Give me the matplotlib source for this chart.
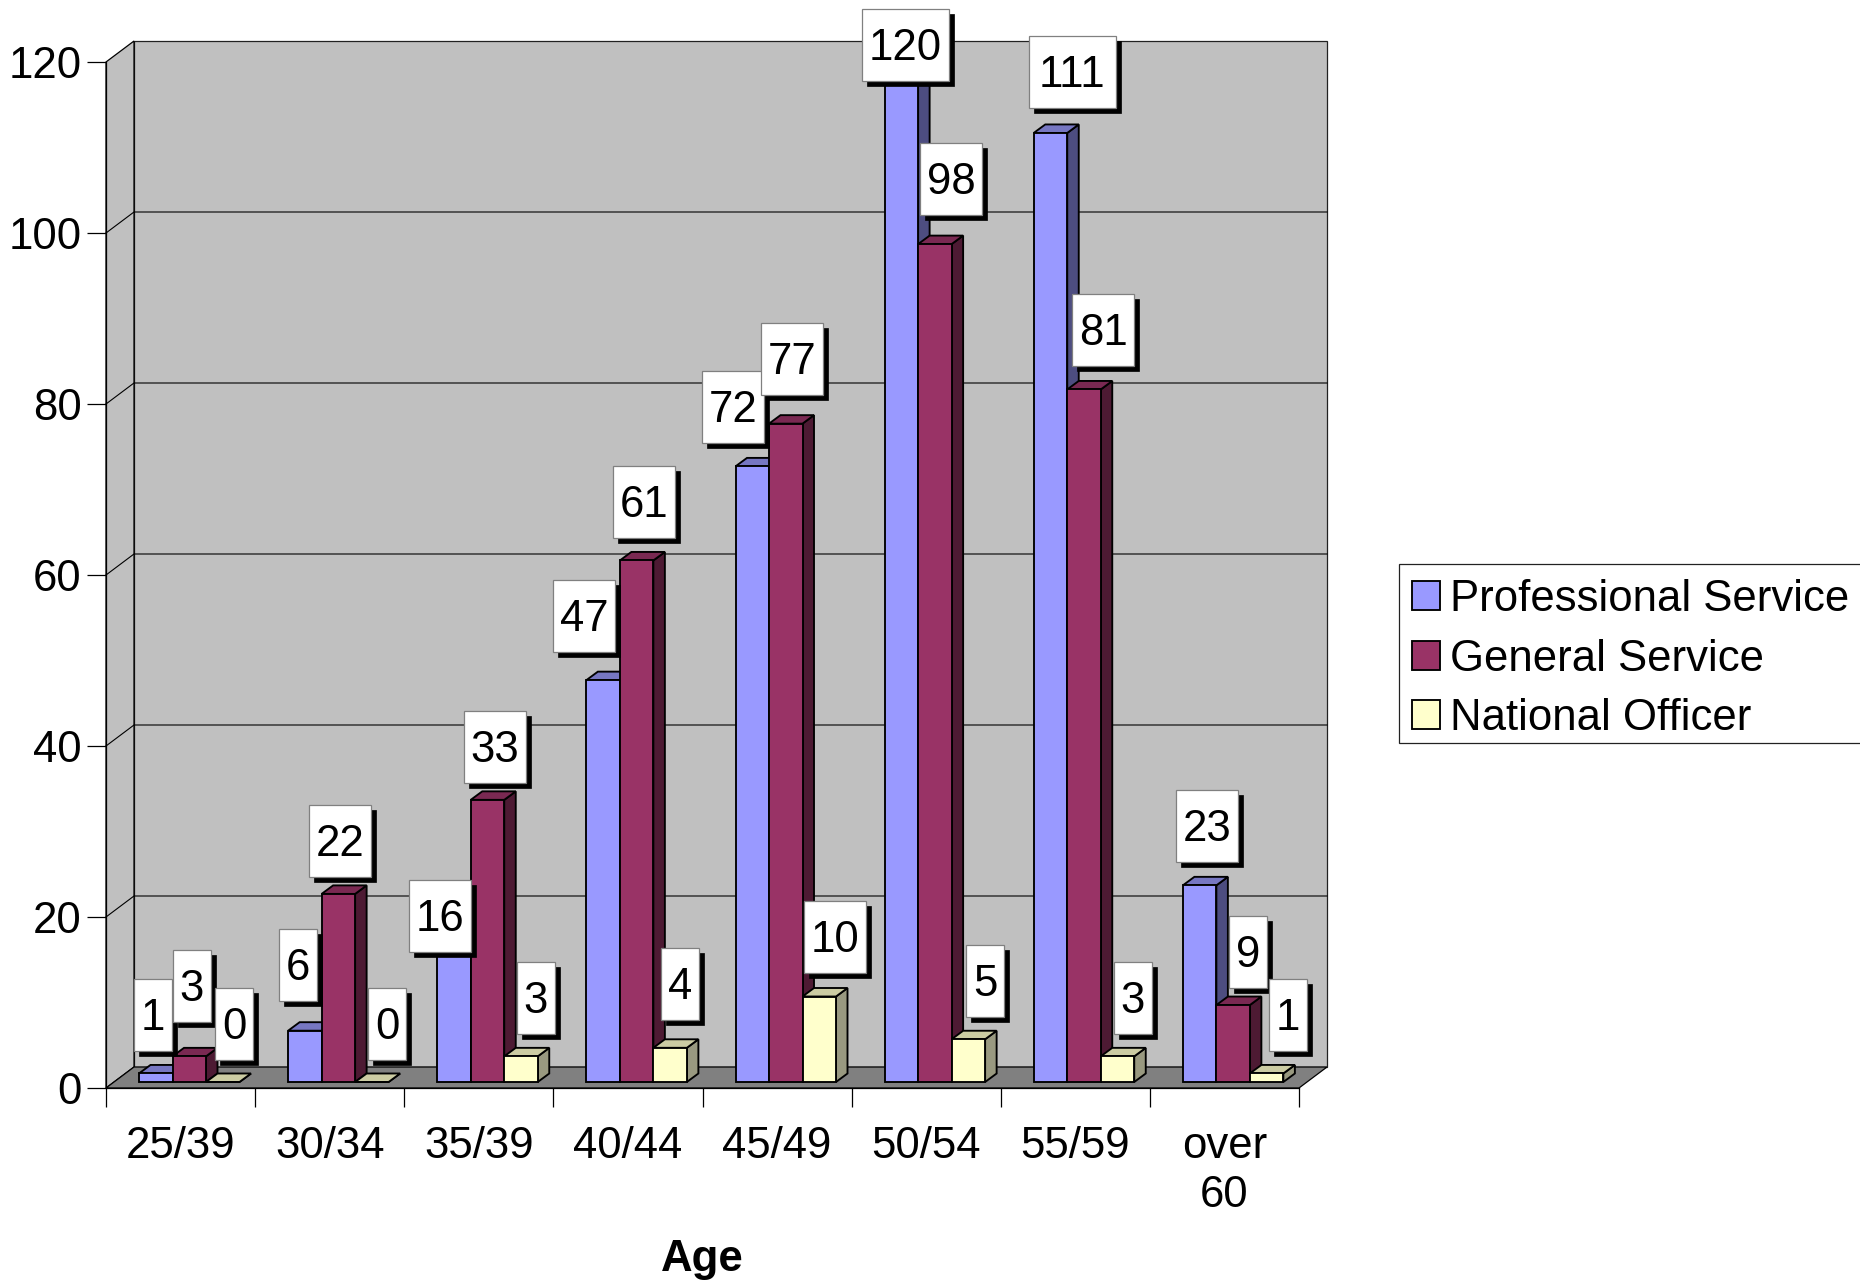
#!/usr/bin/env python
import matplotlib
matplotlib.use("Agg")
import matplotlib.pyplot as plt
from matplotlib.patches import Polygon, Rectangle

plt.rcParams['font.family'] = ['Liberation Sans', 'DejaVu Sans']

age_groups = ['25/39', '30/34', '35/39', '40/44', '45/49', '50/54', '55/59', 'over\n60']
professional = [1, 6, 16, 47, 72, 120, 111, 23]
general = [3, 22, 33, 61, 77, 98, 81, 9]
national = [0, 0, 3, 4, 10, 5, 3, 1]
series_names = ['Professional Service', 'General Service', 'National Officer']
y_ticks = [0, 20, 40, 60, 80, 100, 120]

# face, top, side colours for each series
colours = [('#9999FF', '#7777C2', '#4D4D80'),
           ('#993366', '#7A2952', '#4D1A33'),
           ('#FFFFCC', '#CCCCA3', '#999980')]

# where the value boxes sit on the canvas (pixels from top left)
box_centres = [
    [(153, 1015), (298, 965), (440, 916), (584, 616), (733, 407), (905, 45), (1072, 72), (1207, 826)],
    [(192, 986), (340, 841), (495, 747), (644, 502), (792, 359), (951, 179), (1103, 330), (1248, 952)],
    [(234, 1024), (387, 1024), (536, 998), (680, 984), (835, 937), (985, 981), (1133, 998), (1288, 1015)],
]
box_widths = {1: 38, 2: 62, 3: 87}

W, H = 1860, 1282
FONT = 31.5
LW = 1.35

# front plane of the fake 3d box, in pixels
left, right, top, bottom = 106, 1299, 62, 1088
x_px = (right - left) / 8
y_px = (bottom - top) / 120
wall_dx, wall_dy = 28 / x_px, 21 / y_px
bar_dx, bar_dy = 11.5 / x_px, 8.5 / y_px
bar_base = 6 / y_px
bar_w = 33.5 / x_px
bar_start = 33 / x_px

fig = plt.figure(figsize=(W / 100, H / 100), dpi=100)
ax = fig.add_axes([left / W, 1 - bottom / H, (right - left) / W, (bottom - top) / H])
ax.set_xlim(0, 8)
ax.set_ylim(0, 120)
ax.patch.set_visible(False)

# walls and floor
wall = '#C0C0C0'
ax.add_patch(Polygon([(wall_dx, wall_dy), (8 + wall_dx, wall_dy), (8 + wall_dx, 120 + wall_dy), (wall_dx, 120 + wall_dy)],
                     fc=wall, ec='#222222', lw=0.9, clip_on=False, zorder=0.5))
ax.add_patch(Polygon([(0, 0), (wall_dx, wall_dy), (wall_dx, 120 + wall_dy), (0, 120)],
                     fc=wall, ec='black', lw=0.9, clip_on=False, zorder=0.6))
ax.add_patch(Polygon([(0, 0), (8, 0), (8 + wall_dx, wall_dy), (wall_dx, wall_dy)],
                     fc='#808080', ec='black', lw=0.9, clip_on=False, zorder=0.7))

# gridlines run along the side wall and across the back
for t in y_ticks[1:-1]:
    ax.plot([0, wall_dx, 8 + wall_dx], [t, t + wall_dy, t + wall_dy], color='black', lw=0.8,
            clip_on=False, zorder=0.8)

for s, values in enumerate([professional, general, national]):
    face, top_c, side_c = colours[s]
    z = 2 + s
    xs = [i + bar_start + s * bar_w for i in range(len(values))]
    ax.bar(xs, values, width=bar_w, bottom=bar_base, align='edge', color=face, edgecolor='black',
           linewidth=LW, zorder=z + 0.2, clip_on=False, label=series_names[s])
    for x, v in zip(xs, values):
        y = v + bar_base
        ax.add_patch(Polygon([(x, y), (x + bar_w, y), (x + bar_w + bar_dx, y + bar_dy), (x + bar_dx, y + bar_dy)],
                             fc=top_c, ec='black', lw=LW, clip_on=False, zorder=z + 0.1))
        ax.add_patch(Polygon([(x + bar_w, bar_base), (x + bar_w + bar_dx, bar_base + bar_dy),
                              (x + bar_w + bar_dx, y + bar_dy), (x + bar_w, y)],
                             fc=side_c, ec='black', lw=LW, clip_on=False, zorder=z))

# axes and ticks
for name in ['top', 'right']:
    ax.spines[name].set_visible(False)
for name in ['left', 'bottom']:
    ax.spines[name].set_linewidth(0.9)
    ax.spines[name].set_zorder(1)
ax.set_yticks(y_ticks)
ax.tick_params(axis='y', length=13.7, width=0.9, pad=3.8, labelsize=FONT)
ax.set_xticks(range(9))
ax.set_xticklabels([])
ax.tick_params(axis='x', which='major', length=13.7, width=0.9)
ax.set_xticks([i + 0.5 for i in range(8)], minor=True)
ax.set_xticklabels(age_groups, minor=True, fontsize=FONT, linespacing=1.26)
ax.tick_params(axis='x', which='minor', length=0, pad=27)
ax.set_xlabel('Age', fontsize=FONT, fontweight='bold', va='center')
ax.xaxis.set_label_coords(0.5, -(1259 - bottom) / (bottom - top))

# value boxes and legend go on a pixel-scaled layer over everything
layer = fig.add_axes([0, 0, 1, 1], zorder=5)
layer.set_xlim(0, W)
layer.set_ylim(H, 0)
layer.axis('off')

layer.add_patch(Rectangle((1399, 564), 500, 179, fc='white', ec='#222222', lw=0.9, clip_on=True))
handles, labels = ax.get_legend_handles_labels()
layer.legend(handles, labels, loc='upper left', bbox_to_anchor=(1412 / W, 1 - 579 / H),
             bbox_transform=fig.transFigure, borderaxespad=0, fontsize=FONT, frameon=False,
             borderpad=0, handlelength=0.64, handleheight=0.64, handletextpad=0.22,
             labelspacing=0.425)

for values, centres in zip([professional, general, national], box_centres):
    for v, (cx, cy) in zip(values, centres):
        text = str(v)
        w = box_widths[len(text)]
        h = 72
        layer.add_patch(Rectangle((cx - w / 2 + 5, cy - h / 2 + 5), w, h, fc='black', ec='black', lw=0.5))
        layer.add_patch(Rectangle((cx - w / 2, cy - h / 2), w, h, fc='white', ec='#808080', lw=0.9))
        layer.text(cx, cy + 3.5, text, ha='center', va='center', fontsize=FONT, color='black')

fig.savefig('out.png', dpi=100)
